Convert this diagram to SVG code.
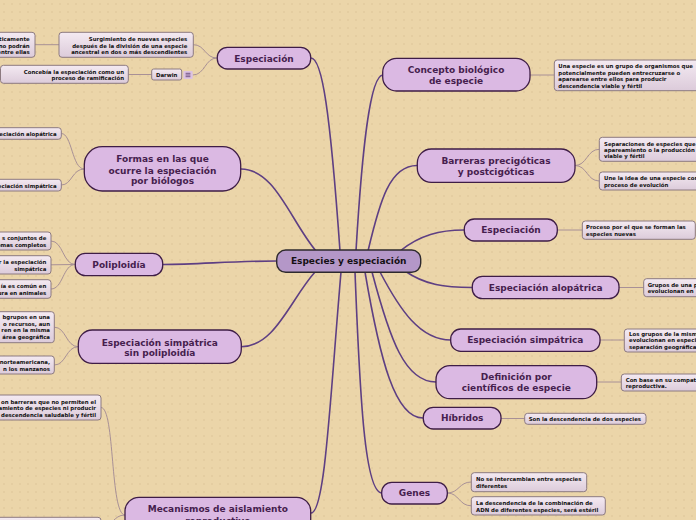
<svg xmlns="http://www.w3.org/2000/svg" width="696" height="520" viewBox="0 0 696 520">
<defs>
<pattern id="dots" width="8" height="8" patternUnits="userSpaceOnUse">
<rect width="8" height="8" fill="#ebd5a9"/>
<circle cx="4" cy="4" r="0.8" fill="#dcc397"/>
</pattern>
<linearGradient id="leafg" x1="0" y1="0" x2="0" y2="1">
<stop offset="0" stop-color="#f4eaf2"/>
<stop offset="1" stop-color="#dccbda"/>
</linearGradient>
<style>
.main rect{fill:#dbb9e3;stroke:#3e1d46;stroke-width:1.3}
.main text{font-family:"DejaVu Sans",Verdana,sans-serif;font-weight:bold;font-size:9px;fill:#461e4e;text-anchor:middle}
.center rect{fill:#b497c8;stroke:#2e2a2e;stroke-width:1.4}
.center text{font-family:"DejaVu Sans",Verdana,sans-serif;font-weight:bold;font-size:9px;fill:#141014;text-anchor:middle}
.leaf rect{fill:url(#leafg);stroke:#8c7a80;stroke-width:1}
.leaf text{font-family:"DejaVu Sans",Verdana,sans-serif;font-weight:bold;font-size:5.4px;fill:#111}
.l text{text-anchor:end}
.m{fill:none;stroke:#5e3f83;stroke-width:1.6}
.s{fill:none;stroke:#a89096;stroke-width:1}
</style>
</defs>
<rect width="696" height="520" fill="url(#dots)"/>

<g id="connectors">
<!-- main -->
<path class="m" d="M340,251 C330,110 322,58 311,58"/>
<path class="m" d="M356,251 C362,150 370,75 383,75"/>
<path class="m" d="M368,251 C380,200 390,165.5 417,165.5"/>
<path class="m" d="M400,251 C420,235 440,230 464,230"/>
<path class="m" d="M405,271 C425,285 445,287.5 472,287.5"/>
<path class="m" d="M380,272 C400,310 420,340 451,340"/>
<path class="m" d="M372,272 C390,340 405,382 436,382"/>
<path class="m" d="M365,272 C380,360 395,418 423,418"/>
<path class="m" d="M355,272 C360,400 365,493 382,493"/>
<path class="m" d="M341,272 C330,400 325,513 311,513"/>
<path class="m" d="M315,272 C290,300 275,346.7 241,346.7"/>
<path class="m" d="M316,251 C290,220 275,169 241,169"/>
<path class="m" d="M277,261 C230,261 200,264.5 163,264.5"/>
<!-- sub -->
<path class="s" d="M217,58 C205,58 205,44.7 193.3,44.7"/>
<path class="s" d="M217,58 C205,58 205,75 192.7,75"/>
<path class="s" d="M35,44.7 L59,44.7"/>
<path class="s" d="M128.3,74.5 L151.7,74.5"/>
<path class="s" d="M530,75 L554.3,75"/>
<path class="s" d="M575,165.5 C587,165.5 587,149.3 599.3,149.3"/>
<path class="s" d="M575,165.5 C587,165.5 587,181 599.3,181"/>
<path class="s" d="M557.3,230 L582.3,230"/>
<path class="s" d="M619,287.5 L643.7,287.5"/>
<path class="s" d="M600,340 L624.3,340"/>
<path class="s" d="M596.7,382 L621.3,382"/>
<path class="s" d="M501,418.5 L524.7,418.5"/>
<path class="s" d="M447.3,493 C459,493 459,482 471.3,482"/>
<path class="s" d="M447.3,493 C459,493 459,505.8 471.3,505.8"/>
<path class="s" d="M84.3,169 C72,169 72,133.5 61.3,133.5"/>
<path class="s" d="M84.3,169 C72,169 72,185 61.3,185"/>
<path class="s" d="M75.3,264.5 C63,264.5 63,241 51,241"/>
<path class="s" d="M75.3,264.5 L51,264.8"/>
<path class="s" d="M75.3,264.5 C63,264.5 63,289 51,289"/>
<path class="s" d="M78.3,346.7 C66,346.7 66,327.2 54.3,327.2"/>
<path class="s" d="M78.3,346.7 C66,346.7 66,365 54.3,365"/>
<path class="s" d="M125,515 C110,515 115,407.5 101,407.5"/>
<path class="s" d="M125,515 C113,515 113,527 101,527"/>
</g>

<g id="center" class="center">
<rect x="276.7" y="250" width="144" height="22.3" rx="9"/>
<text x="348.7" y="264.4">Especies y especiación</text>
</g>

<g id="n-especiacion-top" class="main">
<rect x="217.3" y="47.3" width="93.4" height="21.7" rx="10"/>
<text x="264" y="61.5">Especiación</text>
</g>
<g id="n-concepto" class="main">
<rect x="382.7" y="58.3" width="147.3" height="32.7" rx="14"/>
<text x="456" y="73.2">Concepto biológico</text>
<text x="456" y="84.2">de especie</text>
</g>
<g id="n-barreras" class="main">
<rect x="417.3" y="149" width="157.7" height="33.3" rx="14"/>
<text x="496" y="163.9">Barreras precigóticas</text>
<text x="496" y="174.9">y postcigóticas</text>
</g>
<g id="n-especiacion-right" class="main">
<rect x="464.3" y="219" width="93" height="22" rx="10"/>
<text x="511" y="233.2">Especiación</text>
</g>
<g id="n-alopatrica" class="main">
<rect x="472.3" y="276.3" width="146.7" height="22.4" rx="10"/>
<text x="545.7" y="290.7">Especiación alopátrica</text>
</g>
<g id="n-simpatrica" class="main">
<rect x="450.7" y="329" width="149.3" height="22.3" rx="10"/>
<text x="525.3" y="343.3">Especiación simpátrica</text>
</g>
<g id="n-definicion" class="main">
<rect x="436" y="365.7" width="160.7" height="33" rx="14"/>
<text x="516.3" y="379.9">Definición por</text>
<text x="516.3" y="391.2">científicos de especie</text>
</g>
<g id="n-hibridos" class="main">
<rect x="423.3" y="407.3" width="77.7" height="21.7" rx="10"/>
<text x="462.2" y="421.4">Híbridos</text>
</g>
<g id="n-genes" class="main">
<rect x="381.7" y="482.3" width="65.6" height="21.7" rx="10"/>
<text x="414.5" y="496.4">Genes</text>
</g>
<g id="n-formas" class="main">
<rect x="84.3" y="146.7" width="156.4" height="44.3" rx="18"/>
<text x="162.5" y="162.2">Formas en las que</text>
<text x="162.5" y="173.5">ocurre la especiación</text>
<text x="162.5" y="184.2">por biólogos</text>
</g>
<g id="n-poliploidia" class="main">
<rect x="75.3" y="253.3" width="87.4" height="22.4" rx="10"/>
<text x="119" y="267.7">Poliploidía</text>
</g>
<g id="n-sin-poliploidia" class="main">
<rect x="78.3" y="330" width="163" height="33.3" rx="14"/>
<text x="159.8" y="345.5">Especiación simpátrica</text>
<text x="159.8" y="355.9">sin poliploidía</text>
</g>
<g id="n-mecanismos" class="main">
<rect x="125" y="497.3" width="185.7" height="36" rx="14"/>
<text x="217.8" y="512.2">Mecanismos de aislamiento</text>
<text x="217.8" y="523.5">reproductivo</text>
</g>

<!-- left leaves -->
<g id="leaf-l1" class="leaf l">
<rect x="-6" y="32.3" width="41" height="25" rx="3"/>
<text x="29.7" y="41.3">ticamente</text>
<text x="29.7" y="47.7">no podrán</text>
<text x="29.7" y="54.3">entre ellas</text>
</g>
<g id="leaf-l2" class="leaf l">
<rect x="59" y="32.3" width="134.3" height="25" rx="3"/>
<text x="187.3" y="41.3">Surgimiento de nuevas especies</text>
<text x="187.3" y="47.7">después de la división de una especie</text>
<text x="187.3" y="54.3">ancestral en dos o más descendientes</text>
</g>
<g id="leaf-darwin" class="leaf">
<rect x="151.7" y="69" width="30" height="11" rx="2"/>
<text x="166.7" y="76.5" text-anchor="middle">Darwin</text>
</g>
<g id="note-icon">
<rect x="183.3" y="71" width="9.4" height="8" rx="1" fill="#dcc2e2"/>
<path d="M185.6,73.3 H190.4 M185.6,75 H190.4 M185.6,76.7 H190.4" stroke="#5a3a70" stroke-width="0.8"/>
</g>
<g id="leaf-l4" class="leaf l">
<rect x="0.5" y="65.3" width="127.8" height="18" rx="3"/>
<text x="124" y="74">Concebía la especiación como un</text>
<text x="124" y="80.3">proceso de ramificación</text>
</g>
<g id="leaf-l5" class="leaf l">
<rect x="-6" y="127.7" width="67.3" height="11.6" rx="3"/>
<text x="56.7" y="136">eciación alopátrica</text>
</g>
<g id="leaf-l6" class="leaf l">
<rect x="-6" y="179.3" width="67.3" height="11.7" rx="3"/>
<text x="56.7" y="188">eciación simpátrica</text>
</g>
<g id="leaf-l7" class="leaf l">
<rect x="-6" y="232" width="57" height="18" rx="3"/>
<text x="46.3" y="240">s conjuntos de</text>
<text x="46.3" y="247">emas completos</text>
</g>
<g id="leaf-l8" class="leaf l">
<rect x="-6" y="255.7" width="57" height="18.3" rx="3"/>
<text x="46.3" y="263.7">r la especiación</text>
<text x="46.3" y="270.7">simpátrica</text>
</g>
<g id="leaf-l9" class="leaf l">
<rect x="-6" y="279.7" width="57" height="18.6" rx="3"/>
<text x="46.3" y="287.7">ía es común en</text>
<text x="46.3" y="294.7">ura en animales</text>
</g>
<g id="leaf-l10" class="leaf l">
<rect x="-6" y="311.7" width="60.3" height="31" rx="3"/>
<text x="50" y="319.3">bgrupos en una</text>
<text x="50" y="326">o recursos,  aun</text>
<text x="50" y="332.3">ren en la misma</text>
<text x="50" y="339">área geográfica</text>
</g>
<g id="leaf-l11" class="leaf l">
<rect x="-6" y="356" width="60.3" height="18" rx="3"/>
<text x="50" y="364">norteamericana,</text>
<text x="50" y="371">n  los manzanos</text>
</g>
<g id="leaf-l12" class="leaf l">
<rect x="-6" y="395" width="107" height="25" rx="3"/>
<text x="96" y="404">on barreras que no permiten el</text>
<text x="96" y="410.3">amiento de especies ni producir</text>
<text x="96" y="417">descendencia saludable y fértil</text>
</g>
<g id="leaf-l13" class="leaf l">
<rect x="-6" y="517.3" width="107" height="20" rx="3"/>
</g>

<!-- right leaves -->
<g id="leaf-r1" class="leaf">
<rect x="554.3" y="60" width="150" height="30.7" rx="3"/>
<text x="558.3" y="68">Una especie es un grupo de organismos que</text>
<text x="558.3" y="74.7">potencialmente pueden  entrecruzarse o</text>
<text x="558.3" y="81">aparearse entre ellos para producir</text>
<text x="558.3" y="87.7">descendencia viable y fértil</text>
</g>
<g id="leaf-r2" class="leaf">
<rect x="599.3" y="137.3" width="110" height="24" rx="3"/>
<text x="604" y="145.7">Separaciones de especies que</text>
<text x="604" y="151.7">apareamiento o la producción</text>
<text x="604" y="158">viable y fértil</text>
</g>
<g id="leaf-r3" class="leaf">
<rect x="599.3" y="172" width="110" height="18" rx="3"/>
<text x="604" y="180">Une la idea de una especie con</text>
<text x="604" y="187">proceso de  evolución</text>
</g>
<g id="leaf-r4" class="leaf">
<rect x="582.3" y="221" width="113" height="18.3" rx="3"/>
<text x="586" y="229.3">Proceso por el que se forman las</text>
<text x="586" y="235.7">especies nuevas</text>
</g>
<g id="leaf-r5" class="leaf">
<rect x="643.7" y="278.7" width="70" height="18" rx="3"/>
<text x="647.7" y="286.7">Grupos de una p</text>
<text x="647.7" y="292.5">evolucionan  en</text>
</g>
<g id="leaf-r6" class="leaf">
<rect x="624.3" y="329" width="80" height="23" rx="3"/>
<text x="629" y="336.3">Los grupos de la misma</text>
<text x="629" y="342.3">evolucionan en especies</text>
<text x="629" y="348.7">separación geográfica</text>
</g>
<g id="leaf-r7" class="leaf">
<rect x="621.3" y="374" width="80" height="17" rx="3"/>
<text x="625.7" y="382.3">Con base en su compatibilidad</text>
<text x="625.7" y="388.3">reproductiva.</text>
</g>
<g id="leaf-r8" class="leaf">
<rect x="524.7" y="413.3" width="121.3" height="11" rx="3"/>
<text x="528.7" y="420.7">Son la descendencia de dos especies</text>
</g>
<g id="leaf-r9" class="leaf">
<rect x="471.3" y="472.7" width="115.4" height="19" rx="3"/>
<text x="476" y="480.7">No se intercambian entre especies</text>
<text x="476" y="488">diferentes</text>
</g>
<g id="leaf-r10" class="leaf">
<rect x="471.3" y="496.7" width="134" height="18.3" rx="3"/>
<text x="476" y="504.7">La descendencia de la combinación de</text>
<text x="476" y="512">ADN de diferentes especies, será estéril</text>
</g>
</svg>
